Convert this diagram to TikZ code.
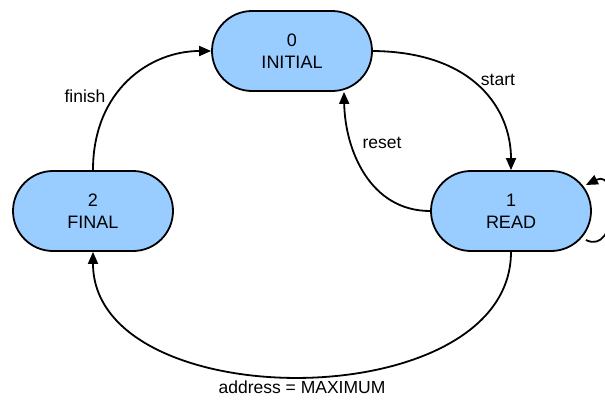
\documentclass[tikz,border=0pt]{standalone}
\usepackage{fontspec}
\setmainfont{Liberation Sans}
\usetikzlibrary{arrows.meta}
\begin{document}
\begin{tikzpicture}[x=1pt,y=-1pt,
  state/.style={draw=black, line width=1.8pt, fill=stateblue,
    rounded corners=40pt, minimum width=160pt, minimum height=80pt,
    align=center, inner sep=0pt, font=\fontsize{18}{22}\selectfont},
  trans/.style={draw=black, line width=1.8pt,
    -{Triangle[length=12pt,width=10pt]}},
  lbl/.style={font=\fontsize{17.5}{20}\selectfont, inner sep=0pt}]
\definecolor{stateblue}{HTML}{99CCFF}
\useasboundingbox (0,0) rectangle (605,399);

\node[state] (init)  at (292,51)  {0\\INITIAL};
\node[state] (read)  at (511,211) {1\\READ};
\node[state] (final) at (93,211)  {2\\FINAL};

% transitions
\draw[trans] (init.east) .. controls (475,52) and (511,110) .. (read.north);
\coordinate (resetend) at ([xshift=52pt]init.south);
\draw[trans] (read.west) .. controls (370,211) and (345,150) .. (resetend);
\draw[trans] (final.north) .. controls (93,90) and (150,51) .. (init.west);
\draw[trans] (read.south) .. controls (511,418) and (93,418) .. (final.south);
\coordinate (loopa) at ([shift={(-6,29)}]read.east);
\coordinate (loopb) at ([shift={(-6,-26)}]read.east);
\draw[trans] (loopa) .. controls (618,256) and (620,168) .. (loopb);

% labels
\node[lbl] (lstart)  at (498,80)  {start};
\node[lbl] (lreset)  at (382,143) {reset};
\node[lbl] (lfinish) at (85,96)   {finish};
\node[lbl] (laddr)   at (302,387) {address = MAXIMUM};
\end{tikzpicture}
\end{document}
